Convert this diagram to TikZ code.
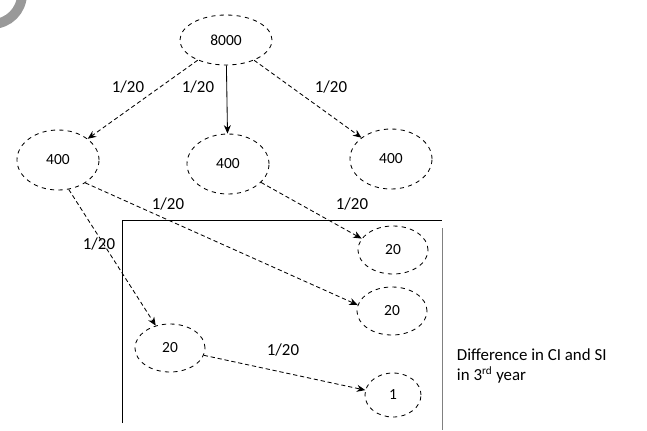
\documentclass[tikz,border=0pt]{standalone}
\usepackage{fontspec}
\setmainfont{Carlito}
\usetikzlibrary{arrows.meta,shapes.geometric,positioning}

\begin{document}
\begin{tikzpicture}[x=0.025cm,y=-0.025cm,
  amt/.style={ellipse,draw,dashed,semithick,minimum width=2.05cm,minimum height=1.5cm,inner sep=0pt,font=\fontsize{11}{13}\selectfont},
  small/.style={amt,minimum width=1.75cm,minimum height=1.2cm},
  tiny/.style={amt,minimum width=1.4cm,minimum height=1.1cm},
  flow/.style={-{Stealth[length=6pt,width=5pt]},densely dashed,semithick},
  rate/.style={font=\fontsize{12}{14}\selectfont}]
\useasboundingbox (0,0) rectangle (647,430);

% page edge
\draw[gray!80,line width=7pt] (22,-6) arc (0:90:30);

% Amounts
\node[amt,minimum width=2.3cm,minimum height=1.25cm] (p) at (226,40) {8000};
\node[amt] (a1) at (58,160) {400};
\node[amt] (a2) at (228,164) {400};
\node[amt] (a3) at (391,159) {400};
\node[small] (b1) at (393,250) {20};
\node[small] (b2) at (392,311) {20};
\node[small] (b3) at (170,348) {20};
\node[tiny] (c1) at (393,395) {1};

% Box
\draw[thin] (122,423) -- (122,220) -- (442,220);
\draw[thin,gray] (442,228) -- (442,430);
\node[rate,align=left,anchor=west] (t) at (452,366) {Difference in CI and SI\\in 3\textsuperscript{rd} year};

% Interest
\draw[flow] (p) -- (a1);
\draw[-{Stealth[length=6pt,width=5pt]},semithick] (p) -- (a2);
\draw[flow] (p) -- (a3);
\draw[flow] (a1.-70) -- (b3);
\draw[flow] (a1.-40) -- (b2.170);
\draw[flow] (a2) -- (b1.160);
\draw[flow] (b3) -- (c1.170);

\node[rate] (r1) at (128,87) {1/20};
\node[rate] (r2) at (198,87) {1/20};
\node[rate] (r3) at (331,87) {1/20};
\node[rate] (r4) at (168,204) {1/20};
\node[rate] (r5) at (352,204) {1/20};
\node[rate] (r6) at (99,244) {1/20};
\node[rate] (r7) at (283,350) {1/20};
\end{tikzpicture}
\end{document}
